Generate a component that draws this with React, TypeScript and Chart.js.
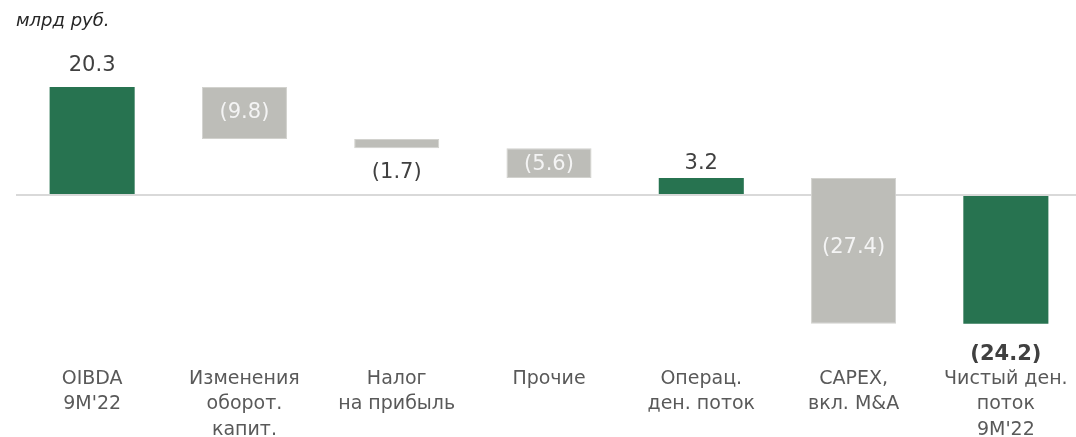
import React, { useEffect, useRef } from "react";
import { Chart, registerables } from "chart.js";

Chart.register(...registerables);

// ---- data ----
const categories: string[][] = [
  ["OIBDA", "9M'22"],
  ["Изменения", "оборот.", "капит."],
  ["Налог", "на прибыль"],
  ["Прочие"],
  ["Операц.", "ден. поток"],
  ["CAPEX,", "вкл. M&A"],
  ["Чистый ден.", "поток", "9M'22"],
];
const values: number[] = [20.3, -9.8, -1.7, -5.6, 3.2, -27.4, -24.2];
const kinds: string[] = ["total", "step", "step", "step", "total", "step", "total"];
const valueLabels: string[] = ["20.3", "(9.8)", "(1.7)", "(5.6)", "3.2", "(27.4)", "(24.2)"];
const unitLabel = "млрд руб.";

// ---- label placement / styles ----
const labelPlace: string[] = ["above", "inside", "below", "inside", "above", "inside", "below"];
const labelShift: number[] = [-21, 0, 24, 1, -14, -3, 31];
const labelBold: boolean[] = [false, false, false, false, false, false, true];

const GREEN = "#277350";
const GRAY = "#bdbdb8";
const FONT = "'DejaVu Sans', sans-serif";

function buildRanges(): [number, number][] {
  const out: [number, number][] = [];
  let run = 0;
  values.forEach((v, i) => {
    if (kinds[i] === "total") {
      out.push([0, v]);
      run = v;
    } else {
      out.push([run, run + v]);
      run += v;
    }
  });
  return out;
}

const labelPlugin = {
  id: "wfLabels",
  afterDatasetsDraw(chart: any) {
    const ctx = chart.ctx;
    const meta = chart.getDatasetMeta(0);
    ctx.save();
    ctx.textAlign = "center";
    ctx.textBaseline = "middle";
    meta.data.forEach((el: any, i: number) => {
      const top = Math.min(el.y, el.base);
      const bottom = Math.max(el.y, el.base);
      let y = (top + bottom) / 2;
      let color = "#f4f4f4";
      if (labelPlace[i] === "above") {
        y = top;
        color = "#404040";
      } else if (labelPlace[i] === "below") {
        y = bottom;
        color = "#404040";
      }
      y += labelShift[i];
      ctx.font = `${labelBold[i] ? "bold " : ""}21px ${FONT}`;
      ctx.fillStyle = color;
      ctx.fillText(valueLabels[i], el.x, y);
    });
    // unit caption
    ctx.textAlign = "left";
    ctx.textBaseline = "alphabetic";
    ctx.font = `italic 18px ${FONT}`;
    ctx.fillStyle = "#262626";
    ctx.fillText(unitLabel, 16, 26);
    ctx.restore();
  },
};

export default function App() {
  const ref = useRef<HTMLCanvasElement | null>(null);
  useEffect(() => {
    if (!ref.current) return;
    const ranges = buildRanges();
    const chart = new Chart(ref.current, {
      type: "bar",
      data: {
        labels: categories,
        datasets: [
          {
            data: ranges as any,
            backgroundColor: kinds.map((k) => (k === "total" ? GREEN : GRAY)),
            borderColor: kinds.map((k) => (k === "total" ? GREEN : "#d2d2ce")),
            borderWidth: kinds.map((k) => (k === "total" ? 0 : 1)),
            borderSkipped: false,
            categoryPercentage: 1,
            barPercentage: 0.5586,
          },
        ],
      },
      options: {
        responsive: false,
        animation: false,
        layout: { padding: { left: 16, right: 0, top: 0, bottom: 0 } },
        plugins: {
          legend: { display: false },
          tooltip: { enabled: false },
          title: { display: false },
        },
        scales: {
          x: {
            grid: { display: false, drawTicks: false },
            border: { display: false },
            afterFit: (axis: any) => {
              axis.height = 74;
            },
            ticks: {
              color: "#595959",
              padding: 3,
              maxRotation: 0,
              autoSkip: false,
              font: { family: FONT, size: 19, lineHeight: 1.35 },
            },
          },
          y: {
            min: -31.55,
            max: 36.62,
            z: 1,
            ticks: { display: false },
            border: { display: false },
            grid: {
              drawTicks: false,
              lineWidth: 2,
              color: (c: any) => (c.tick && c.tick.value === 0 ? "#d9d9d9" : "rgba(0,0,0,0)"),
            },
            afterBuildTicks: (axis: any) => {
              axis.ticks = [{ value: 0 }];
            },
          },
        },
      },
      plugins: [labelPlugin],
    });
    return () => chart.destroy();
  }, []);

  return (
    <div
      style={{
        position: "fixed",
        left: 0,
        top: 0,
        width: 1076,
        height: 437,
        overflow: "hidden",
        background: "#fff",
      }}
    >
      <canvas ref={ref} width={1082} height={437} style={{ display: "block" }} />
    </div>
  );
}
